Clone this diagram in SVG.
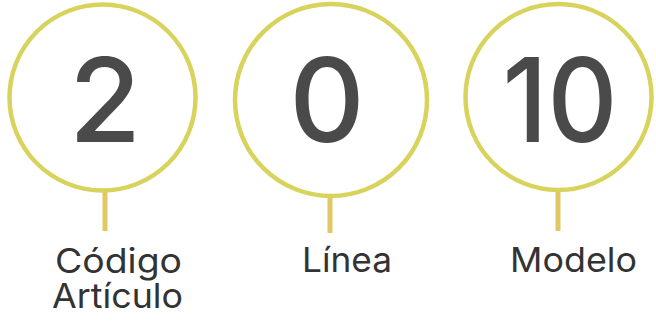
<svg xmlns="http://www.w3.org/2000/svg" width="656" height="321" viewBox="0 0 656 321">
<style>
.ring{fill:none;stroke:#d8d35c;stroke-width:4.5}
.stem{stroke:#e3c765;stroke-width:5;fill:none}
.num{font-family:Inter,"Liberation Sans",sans-serif;font-weight:500;font-size:117px;fill:#4a4a4a;text-anchor:middle}
.lbl{font-family:Inter,"Liberation Sans",sans-serif;font-weight:400;font-size:34px;fill:#333;text-anchor:middle}
</style>
<rect width="656" height="321" fill="#fff"/>
<g id="connectors">
<line class="stem" x1="105" y1="190" x2="105" y2="231"/>
<line class="stem" x1="330" y1="196" x2="330" y2="233"/>
<line class="stem" x1="558" y1="190" x2="558" y2="231"/>
</g>
<g id="node-codigo">
<circle class="ring" cx="102.5" cy="97.5" r="93"/>
<text class="num" x="105" y="142">2</text>
<text class="lbl" x="118.5" y="273" textLength="127" lengthAdjust="spacingAndGlyphs">Código</text>
<text class="lbl" x="117.5" y="308" textLength="131" lengthAdjust="spacingAndGlyphs">Artículo</text>
</g>
<g id="node-linea">
<circle class="ring" cx="331" cy="100" r="96"/>
<text class="num" x="327" y="142">0</text>
<text class="lbl" x="347" y="272" textLength="90" lengthAdjust="spacingAndGlyphs">Línea</text>
</g>
<g id="node-modelo">
<circle class="ring" cx="558.5" cy="97" r="93"/>
<text class="num" x="560" y="142" textLength="115" lengthAdjust="spacingAndGlyphs">10</text>
<text class="lbl" x="573.5" y="272" textLength="127" lengthAdjust="spacingAndGlyphs">Modelo</text>
</g>
</svg>
